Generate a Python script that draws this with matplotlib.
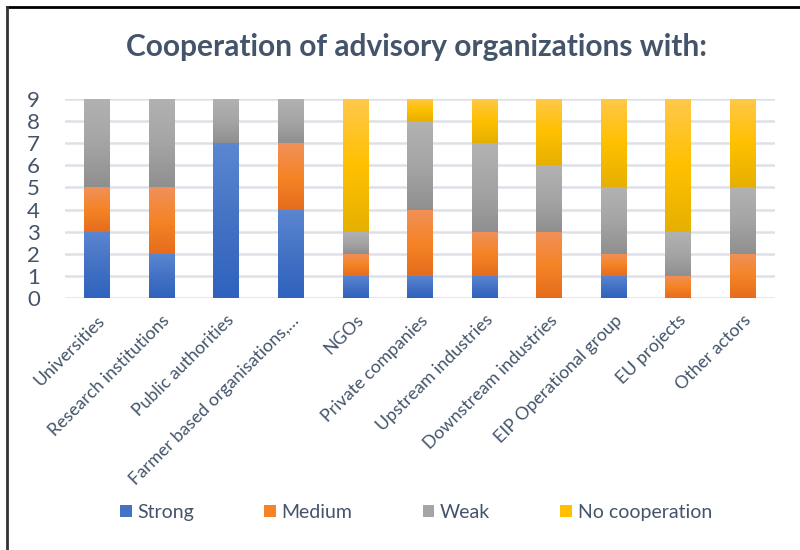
import numpy as np
import matplotlib
matplotlib.use('Agg')
import matplotlib.pyplot as plt
from matplotlib.colors import LinearSegmentedColormap
from matplotlib.patches import Patch
from matplotlib.lines import Line2D

categories = ['Universities', 'Research institutions', 'Public authorities',
              'Farmer based organisations,\u2026', 'NGOs', 'Private companies',
              'Upstream industries', 'Downstream industries', 'EIP Operational group',
              'EU projects', 'Other actors']
strong = [3, 2, 7, 4, 1, 1, 1, 0, 1, 0, 0]
medium = [2, 3, 0, 3, 1, 3, 2, 3, 1, 1, 2]
weak = [4, 4, 2, 2, 1, 4, 4, 3, 3, 2, 3]
no_coop = [0, 0, 0, 0, 6, 1, 2, 3, 4, 6, 4]
series_names = ['Strong', 'Medium', 'Weak', 'No cooperation']

# gradient stops: top, middle, bottom
grads = {'Strong': ['#5B87D1', '#4472C4', '#2F63BE'],
         'Medium': ['#F0905A', '#F58426', '#E56C1C'],
         'Weak': ['#B2B2B2', '#A5A5A5', '#8F8F8F'],
         'No cooperation': ['#FFC84A', '#FFC000', '#E5B000']}
txt = '#44546A'

plt.rcParams['font.family'] = ['Lato', 'DejaVu Sans']
fig = plt.figure(figsize=(8, 5.5), dpi=100)
ax = fig.add_axes([0.081, 0.458, 0.888, 0.362])

x = np.arange(len(categories))
bottom = np.zeros(len(categories))
grad_img = np.linspace(0, 1, 256).reshape(-1, 1)
for name, vals in zip(series_names, [strong, medium, weak, no_coop]):
    bars = ax.bar(x, vals, 0.4, bottom=bottom, color=grads[name][1], zorder=2)
    cmap = LinearSegmentedColormap.from_list(name, grads[name][::-1])
    for b in bars:
        if b.get_height() <= 0:
            continue
        x0, y0 = b.get_x(), b.get_y()
        im = ax.imshow(grad_img, cmap=cmap, aspect='auto', origin='lower',
                       extent=[x0, x0 + b.get_width(), y0, y0 + b.get_height()],
                       zorder=3)
        im.set_clip_path(b)
    bottom += np.array(vals)

ax.set_xlim(-0.5, len(categories) - 0.5)
ax.set_ylim(0, 9)
ax.set_yticks(range(10))
ax.grid(axis='y', color='#DDE1E7', linewidth=1.8, zorder=0)
ax.set_axisbelow(True)
for s in ax.spines.values():
    s.set_visible(False)
ax.tick_params(axis='both', length=0, colors=txt)
ax.tick_params(axis='y', labelsize=16, pad=18)
ax.set_xticks(x)
ax.set_xticklabels(categories, rotation=45, ha='right', rotation_mode='anchor',
                   fontsize=12.8, color=txt)
ax.tick_params(axis='x', pad=10)

fig.text(0.52, 0.915, 'Cooperation of advisory organizations with:', ha='center',
         va='center', fontsize=21.5, fontweight='bold', color=txt)

handles = [Patch(facecolor=grads[n][1], edgecolor='none') for n in series_names]
fig.legend(handles, series_names, loc='center', bbox_to_anchor=(0.52, 0.068),
           ncol=4, frameon=False, fontsize=14, labelcolor=txt,
           handlelength=0.6, handleheight=0.6, handletextpad=0.3, columnspacing=3.6)

# chart border (top and left edges visible)
fig.add_artist(Line2D([0.009, 1.0], [0.988, 0.988], color='black', linewidth=2))
fig.add_artist(Line2D([0.009, 0.009], [0.0, 0.988], color='#333333', linewidth=2))

fig.savefig('out.png', dpi=100)
